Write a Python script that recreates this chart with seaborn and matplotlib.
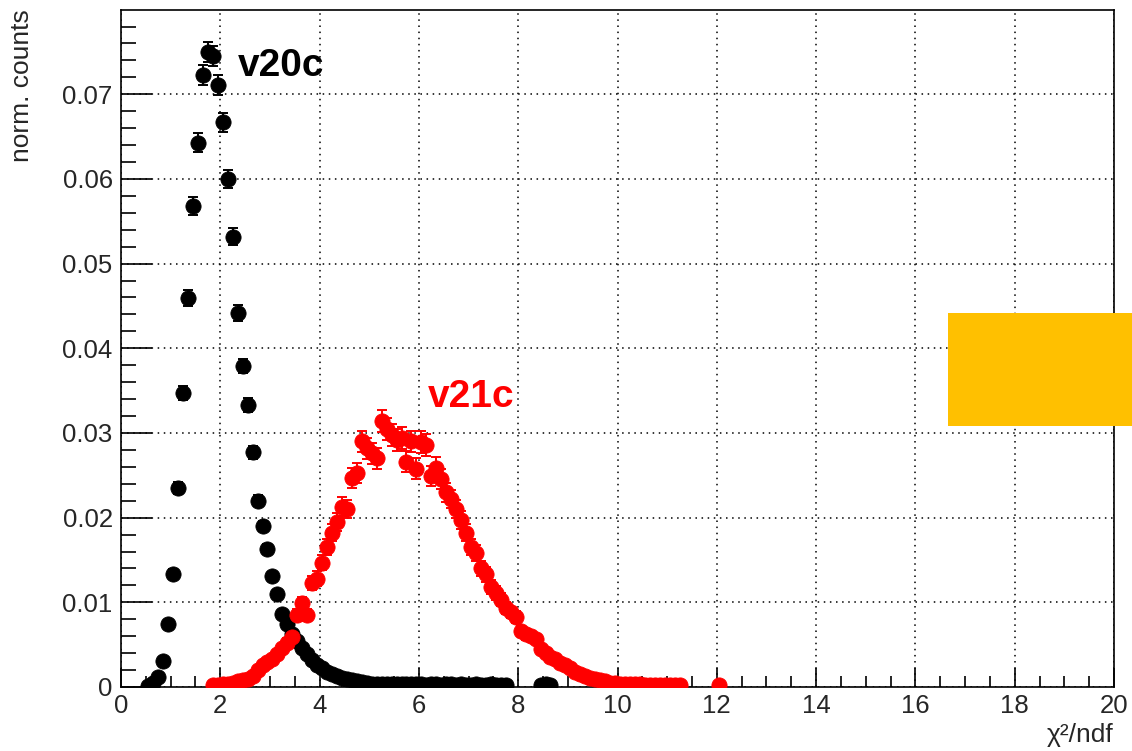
import numpy as np
import pandas as pd
import matplotlib
matplotlib.use("Agg")
import matplotlib.pyplot as plt
import seaborn as sns
from matplotlib.ticker import MultipleLocator, FuncFormatter
from matplotlib.patches import Rectangle

# ---------------- data ----------------
# v20c: bin centres (width 0.1) and normalised counts
v20c_x = [round(0.55 + 0.1 * i, 2) for i in range(73)] + [8.45, 8.55, 8.65]
v20c_y = [
    0.0001, 0.0005, 0.0012, 0.0031, 0.0074, 0.0134, 0.0235, 0.0347, 0.0459, 0.0568,
    0.0643, 0.0723, 0.0750, 0.0745, 0.0711, 0.0667, 0.0600, 0.0532, 0.0442, 0.0379,
    0.0333, 0.0277, 0.0220, 0.0190, 0.0163, 0.0131, 0.0110, 0.0086, 0.0074, 0.0063,
    0.0054, 0.0046, 0.0039, 0.0032, 0.0026, 0.0022, 0.0018, 0.0015, 0.0013, 0.0011,
    0.0009, 0.0008, 0.0007, 0.0006, 0.0005, 0.0004, 0.0004, 0.0003, 0.0004, 0.0003,
    0.0003, 0.0004, 0.0003, 0.0003, 0.0003, 0.0004, 0.0002, 0.0003, 0.0003, 0.0002,
    0.0003, 0.0003, 0.0002, 0.0003, 0.0002, 0.0002, 0.0003, 0.0002, 0.0002, 0.0003,
    0.0002, 0.0002, 0.0002,
    0.0002, 0.0003, 0.0002,
]

# v21c
v21c_x = [round(1.85 + 0.1 * i, 2) for i in range(95)] + [12.05]
v21c_y = [
    0.0002, 0.0002, 0.0003, 0.0004, 0.0005, 0.0007, 0.0008, 0.0010, 0.0013, 0.0020,
    0.0026, 0.0029, 0.0033, 0.0039, 0.0046, 0.0052, 0.0059, 0.0085, 0.0099, 0.0085,
    0.0123, 0.0128, 0.0147, 0.0165, 0.0182, 0.0195, 0.0213, 0.0210, 0.0247, 0.0253,
    0.0290, 0.0282, 0.0276, 0.0270, 0.0314, 0.0305, 0.0298, 0.0292, 0.0294, 0.0266,
    0.0290, 0.0258, 0.0289, 0.0286, 0.0249, 0.0259, 0.0246, 0.0230, 0.0222, 0.0210,
    0.0197, 0.0182, 0.0165, 0.0158, 0.0140, 0.0133, 0.0118, 0.0111, 0.0103, 0.0093,
    0.0088, 0.0083, 0.0066, 0.0062, 0.0060, 0.0057, 0.0045, 0.0040, 0.0035, 0.0033,
    0.0028, 0.0026, 0.0022, 0.0018, 0.0015, 0.0013, 0.0011, 0.0010, 0.0008, 0.0007,
    0.0005, 0.0005, 0.0004, 0.0004, 0.0003, 0.0003, 0.0003, 0.0002, 0.0002, 0.0002,
    0.0002, 0.0002, 0.0002, 0.0002, 0.0002,
    0.0002,
]

# statistical error scale (err = k * sqrt(y))
v20c_err_k = 0.0044
v21c_err_k = 0.0075

labels = ["v20c", "v21c"]
colors = ["black", "#ff0000"]

x_label = "χ²/ndf"
y_label = "norm. counts"

# ---------------- plotting ----------------
sns.set_theme(style="white")
plt.rcParams["font.family"] = ["Liberation Sans", "DejaVu Sans"]

fig = plt.figure(figsize=(11.32, 7.51), dpi=100)
ax = fig.add_axes([121 / 1132, 64 / 751, (1114 - 121) / 1132, (687 - 10) / 751])

df20 = pd.DataFrame({"x": v20c_x, "y": v20c_y})
df20["err"] = v20c_err_k * np.sqrt(df20["y"])
df21 = pd.DataFrame({"x": v21c_x, "y": v21c_y})
df21["err"] = v21c_err_k * np.sqrt(df21["y"])

for df, c in [(df20, colors[0]), (df21, colors[1])]:
    ax.errorbar(df["x"], df["y"], yerr=df["err"], fmt="none", ecolor=c,
                elinewidth=1.4, capsize=3.5, capthick=1.4, zorder=3)
    sns.scatterplot(data=df, x="x", y="y", ax=ax, color=c, s=120,
                    edgecolor=c, linewidth=0.6, marker="o", zorder=4, legend=False)

ax.set_xlim(0, 20)
ax.set_ylim(0, 0.07995)

# ticks ROOT-like
ax.xaxis.set_major_locator(MultipleLocator(2))
ax.xaxis.set_minor_locator(MultipleLocator(0.5))
ax.yaxis.set_major_locator(MultipleLocator(0.01))
ax.yaxis.set_minor_locator(MultipleLocator(0.002))
ax.tick_params(axis="x", which="major", direction="in", length=14, width=1.2,
               labelsize=18.5, pad=5, bottom=True, top=False, color="black")
ax.tick_params(axis="x", which="minor", direction="in", length=8, width=1.2,
               bottom=True, top=False, color="black")
ax.tick_params(axis="y", which="major", direction="in", length=22, width=1.2,
               labelsize=18.5, pad=6, left=True, right=False, color="black")
ax.tick_params(axis="y", which="minor", direction="in", length=11, width=1.2,
               left=True, right=False, color="black")
ax.xaxis.set_major_formatter(FuncFormatter(lambda v, p: f"{v:.0f}"))
ax.yaxis.set_major_formatter(FuncFormatter(lambda v, p: "0" if abs(v) < 1e-9 else f"{v:.2f}"))

ax.grid(True, which="major", color="black", linestyle=(0, (1, 3)), linewidth=1.1)
ax.set_axisbelow(True)
for s in ax.spines.values():
    s.set_color("black")
    s.set_linewidth(1.2)

ax.set_xlabel("")
ax.set_ylabel("")
fig.text(1113 / 1132, 1 - 742 / 751, x_label, ha="right", va="baseline", fontsize=19)
fig.text(22 / 1132, 1 - 9 / 751, y_label, ha="center", va="top", rotation=90, fontsize=19)

ax.text(2.36, 0.0721, labels[0], color=colors[0], fontsize=28, fontweight="bold",
        ha="left", va="baseline")
ax.text(6.18, 0.0331, labels[1], color=colors[1], fontsize=28, fontweight="bold",
        ha="left", va="baseline")

# orange overlay box
fig.patches.append(Rectangle((948 / 1132, 1 - 426 / 751), 184 / 1132, 113 / 751,
                             transform=fig.transFigure, facecolor="#ffc000",
                             edgecolor="none", zorder=10))

fig.savefig("out.png", dpi=100)
